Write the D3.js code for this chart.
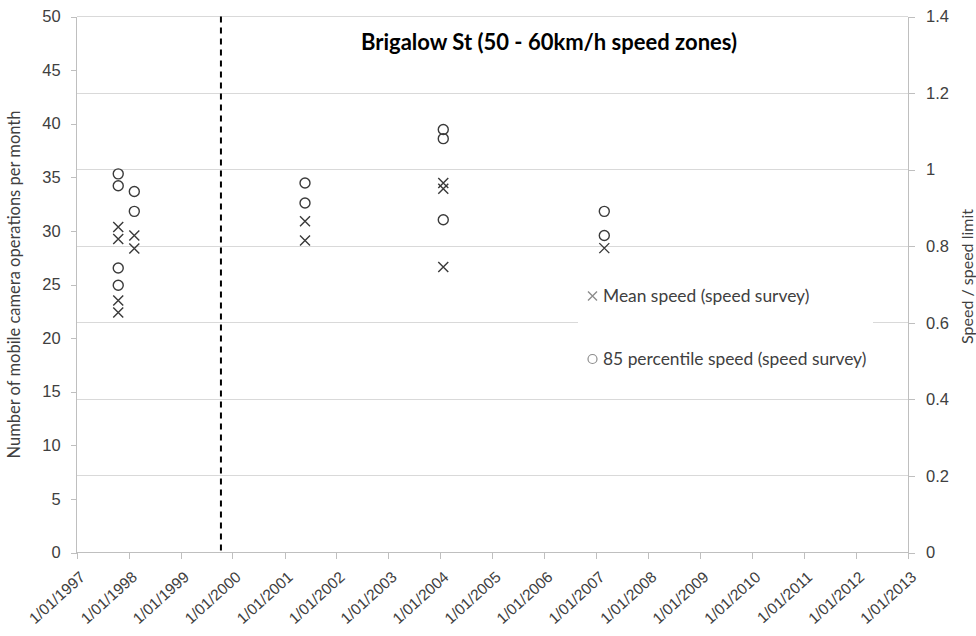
<!DOCTYPE html>
<html><head><meta charset="utf-8">
<script src="https://cdn.jsdelivr.net/npm/d3@7"></script>
<style>
html,body{margin:0;padding:0;background:#fff;}
svg{display:block;font-family:Lato,"Open Sans",sans-serif;}
</style></head>
<body><svg id="chart" width="976" height="636"></svg>
<script>
// ---- data ----
const chartTitle = "Brigalow St (50 - 60km/h speed zones)";
const leftAxisTitle = "Number of mobile camera operations per month";
const rightAxisTitle = "Speed / speed limit";
const xTickYears = [1997,1998,1999,2000,2001,2002,2003,2004,2005,2006,2007,2008,2009,2010,2011,2012,2013];
const leftTicks = [0,5,10,15,20,25,30,35,40,45,50];
const rightTicks = [0,0.2,0.4,0.6,0.8,1.0,1.2,1.4];
const changeDate = "1999-10-12";
const meanDates  = ["1997-10-20","1997-10-20","1997-10-20","1997-10-20","1998-02-10","1998-02-10","2001-05-25","2001-05-25","2004-01-22","2004-01-22","2004-01-22","2007-02-27"];
const meanValues = [0.850,0.819,0.658,0.627,0.828,0.794,0.865,0.815,0.965,0.950,0.746,0.795];
const p85Dates   = ["1997-10-20","1997-10-20","1997-10-20","1997-10-20","1998-02-10","1998-02-10","2001-05-25","2001-05-25","2004-01-22","2004-01-22","2004-01-22","2007-02-27","2007-02-27"];
const p85Values  = [0.989,0.958,0.743,0.698,0.943,0.891,0.965,0.913,1.105,1.081,0.869,0.891,0.828];
const legendLabels = ["Mean speed (speed survey)","85 percentile speed (speed survey)"];

// ---- chart ----
const svg = d3.select("#chart");
const L = 76.7, R = 908, T = 16.5, B = 552.5;
const parse = d3.timeParse("%Y-%m-%d");
const x = d3.scaleTime().domain([new Date(1997,0,1), new Date(2013,0,1)]).range([L,R]);
const yL = d3.scaleLinear().domain([0,50]).range([B,T]);
const yR = d3.scaleLinear().domain([0,1.4]).range([B,T]);
const gridC = "#d9d9d9", axisC = "#bfbfbf", textC = "#404040";

// gridlines (right axis ticks)
svg.append("g").selectAll("line").data(rightTicks.filter(d=>d>0)).join("line")
  .attr("x1",L).attr("x2",R).attr("y1",d=>yR(d)).attr("y2",d=>yR(d))
  .attr("stroke",gridC).attr("stroke-width",1).attr("shape-rendering","crispEdges");

// left axis
const gl = svg.append("g").attr("transform",`translate(${L},0)`)
  .call(d3.axisLeft(yL).tickValues(leftTicks).tickSize(6).tickPadding(10).tickFormat(d3.format("d")));
// right axis
const gr = svg.append("g").attr("transform",`translate(${R},0)`)
  .call(d3.axisRight(yR).tickValues(rightTicks).tickSize(7).tickPadding(11).tickFormat(d=>d===0?"0":(d===1?"1":d3.format(".1f")(d))));
// bottom axis
const gb = svg.append("g").attr("transform",`translate(0,${B})`)
  .call(d3.axisBottom(x).tickValues(xTickYears.map(y=>new Date(y,0,1))).tickSize(6).tickFormat(d=>"1/01/"+d.getFullYear()));
[gl,gr,gb].forEach(g=>{
  g.select(".domain").attr("stroke",axisC).attr("stroke-width",1);
  g.selectAll(".tick line").attr("stroke",axisC);
  g.selectAll("text").attr("fill",textC).style("font-size","16.5px");
  g.attr("shape-rendering","crispEdges");
});
gl.select(".domain").attr("d",`M0,${B}V${T}`);
gr.select(".domain").attr("d",`M0,${B}V${T}`);
gb.select(".domain").attr("d",`M${L},0H${R}`);
gb.selectAll(".tick text")
  .attr("text-anchor","end").attr("dy","0")
  .attr("transform","translate(9,26) rotate(-42)")
  .attr("x",0).attr("y",0).style("font-size","15.5px");

// dashed change line
const cd = parse(changeDate);
svg.append("line").attr("x1",x(cd)).attr("x2",x(cd)).attr("y1",T).attr("y2",B)
  .attr("stroke","#000").attr("stroke-width",2).attr("stroke-dasharray","6,5");

// legend box (white background)
svg.append("rect").attr("x",578).attr("y",262).attr("width",295).attr("height",130).attr("fill","#fff");

const markC = "#3a3a3a";
function xMark(g, cx, cy, s, col){
  g.append("path").attr("d",`M${cx-s},${cy-s}L${cx+s},${cy+s}M${cx-s},${cy+s}L${cx+s},${cy-s}`)
   .attr("stroke",col).attr("stroke-width",1.4).attr("fill","none");
}
const gm = svg.append("g");
meanDates.forEach((d,i)=>xMark(gm, x(parse(d)), yR(meanValues[i]), 5, markC));
svg.append("g").selectAll("circle").data(p85Dates.map((d,i)=>({d,v:p85Values[i]}))).join("circle")
  .attr("cx",d=>x(parse(d.d))).attr("cy",d=>yR(d.v)).attr("r",5)
  .attr("fill","none").attr("stroke",markC).attr("stroke-width",1.4);

// legend
const lg = svg.append("g");
xMark(lg, 592.5, 296, 4.5, "#8c8c8c");
lg.append("circle").attr("cx",592.5).attr("cy",359).attr("r",4.5).attr("fill","none").attr("stroke","#8c8c8c").attr("stroke-width",1.2);
lg.selectAll("text").data(legendLabels).join("text")
  .attr("x",603).attr("y",(d,i)=>[302,365][i]).attr("fill",textC).style("font-size","17.4px").text(d=>d);

// titles
svg.append("text").attr("x",549).attr("y",50).attr("text-anchor","middle")
  .style("font-size","22px").style("font-weight","bold").attr("fill","#000").text(chartTitle);
svg.append("text").attr("transform",`translate(20,${(T+B)/2}) rotate(-90)`).attr("text-anchor","middle")
  .style("font-size","16.5px").attr("fill",textC).text(leftAxisTitle);
svg.append("text").attr("transform",`translate(973,${(T+B)/2-8}) rotate(-90)`).attr("text-anchor","middle")
  .style("font-size","16px").attr("fill",textC).text(rightAxisTitle);
</script></body></html>
